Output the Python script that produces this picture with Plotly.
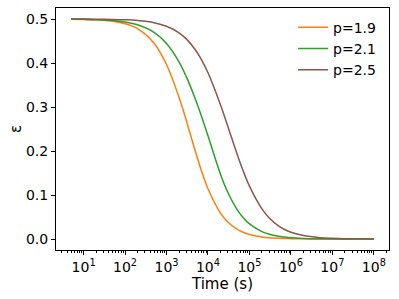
import plotly.graph_objects as go

time_s = [5, 10, 20, 50, 100, 200, 500, 1e3, 2e3, 3e3, 5e3, 7e3, 1e4, 2e4, 3e4,
          5e4, 7e4, 1e5, 2e5, 3e5, 5e5, 7e5, 1e6, 2e6, 5e6, 1e7, 2e7, 5e7, 1e8]

eps_p19 = [0.4996, 0.4991, 0.4981, 0.4949, 0.4894, 0.4781, 0.4450, 0.3965, 0.3222, 0.2695,
           0.1982, 0.1542, 0.1141, 0.0588, 0.0386, 0.0222, 0.0153, 0.0102, 0.0047, 0.0029,
           0.0016, 0.0011, 0.0007, 0.0003, 0.0001, 0.00005, 0.0, 0.0, 0.0]

eps_p21 = [0.4996, 0.4992, 0.4985, 0.4964, 0.4931, 0.4868, 0.4696, 0.4444, 0.4027, 0.3689,
           0.3170, 0.2786, 0.2345, 0.1474, 0.1062, 0.0672, 0.0487, 0.0342, 0.0168, 0.0110,
           0.0064, 0.0045, 0.0030, 0.0014, 0.0005, 0.0002, 0.0001, 0.00005, 0.0]

eps_p25 = [0.4999, 0.4998, 0.4996, 0.4991, 0.4982, 0.4965, 0.4916, 0.4836, 0.4687, 0.4548,
           0.4296, 0.4072, 0.3778, 0.3052, 0.2565, 0.1937, 0.1556, 0.1201, 0.0683, 0.0477,
           0.0298, 0.0216, 0.0153, 0.0078, 0.0031, 0.0016, 0.0008, 0.0003, 0.0002]

series = [("p=1.9", eps_p19, "#ff7f0e"),
          ("p=2.1", eps_p21, "#2ca02c"),
          ("p=2.5", eps_p25, "#8c564b")]

y_ticks = [0.0, 0.1, 0.2, 0.3, 0.4, 0.5]
x_exponents = [1, 2, 3, 4, 5, 6, 7, 8]
x_ticks = [10 ** e for e in x_exponents]
x_ticktext = [f"10<sup>{e}</sup>" for e in x_exponents]
x_minor = [m * 10 ** e for e in range(0, 9) for m in range(2, 10)]

fig = go.Figure()
for name, ys, color in series:
    fig.add_trace(go.Scatter(x=time_s, y=ys, mode="lines", name=name,
                             line=dict(color=color, width=1.5, shape="spline")))

font = "DejaVu Sans"
fig.update_layout(
    width=399, height=299,
    margin=dict(l=56, r=10, t=8, b=49),
    paper_bgcolor="white", plot_bgcolor="white",
    font=dict(family=font, size=14, color="black"),
    showlegend=True,
    legend=dict(x=0.712, y=0.985, xanchor="left", yanchor="top",
                bgcolor="rgba(0,0,0,0)", font=dict(size=14),
                itemwidth=30, tracegroupgap=0),
    xaxis=dict(type="log", range=[0.335, 8.365], automargin=False,
               tickmode="array", tickvals=x_ticks, ticktext=x_ticktext,
               showline=True, linecolor="black", linewidth=1, mirror=True,
               ticks="outside", ticklen=4, tickcolor="black",
               minor=dict(tickmode="array", tickvals=x_minor, ticks="outside",
                          ticklen=2, tickcolor="black", showgrid=False),
               showgrid=False, zeroline=False,
               title=dict(text="Time (s)", font=dict(size=15), standoff=2),
               tickfont=dict(size=14)),
    yaxis=dict(range=[-0.025, 0.525], tickvals=y_ticks, tickformat=".1f",
               automargin=False,
               showline=True, linecolor="black", linewidth=1, mirror=True,
               ticks="outside", ticklen=4, tickcolor="black",
               showgrid=False, zeroline=False,
               title=dict(text="ε", font=dict(size=15), standoff=0),
               tickfont=dict(size=14)),
)

fig.write_html("out.html",
               config={"displayModeBar": False, "staticPlot": True},
               post_script="document.body.style.margin='0';document.body.style.overflow='hidden';")
